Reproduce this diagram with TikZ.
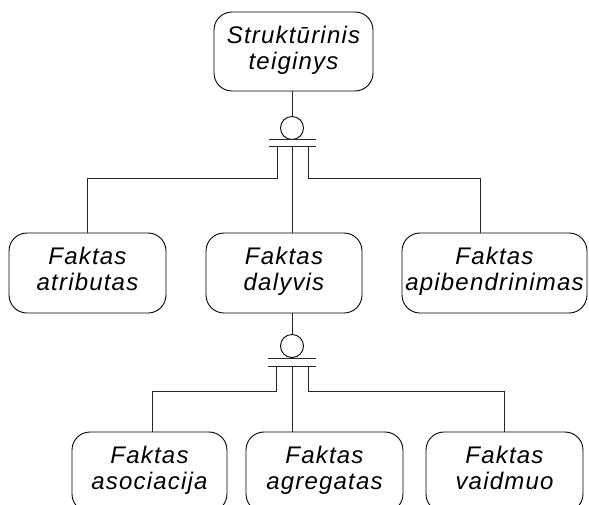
\documentclass[tikz,border=0pt]{standalone}
\usepackage{fontspec}
\setmainfont{Liberation Sans}[LetterSpace=5]
\begin{document}
\begin{tikzpicture}[x=1pt,y=-1pt,
  concept/.style={draw, rounded corners=18pt, line width=0.9pt,
    minimum height=80pt, inner sep=2pt, align=center,
    font=\fontsize{24}{26}\selectfont\itshape,
    execute at begin node=\strut, execute at end node=\strut},
  link/.style={line width=0.9pt, draw=black!85},
  joint/.style={circle, draw, line width=0.9pt, minimum size=23pt, inner sep=0pt}]
\useasboundingbox (0,0) rectangle (589,504);
\clip (0,0) rectangle (589,504);

% concepts
\node[concept, minimum width=159pt, minimum height=79pt] (top) at (293.5,51.5) {Struktūrinis\\teiginys};
\node[concept, minimum width=157pt] (atr)  at (87.5,273)  {Faktas\\atributas};
\node[concept, minimum width=156pt] (dal)  at (284,273)   {Faktas\\dalyvis};
\node[concept, minimum width=185pt] (apib) at (494.5,273) {Faktas\\apibendrinimas};
\node[concept, minimum width=155pt] (asoc) at (149.5,472) {Faktas\\asociacija};
\node[concept, minimum width=157pt] (agr)  at (324.5,472) {Faktas\\agregatas};
\node[concept, minimum width=157pt] (vaid) at (504.5,472) {Faktas\\vaidmuo};

% upper junction
\node[joint] (c1) at (292,128) {};
\coordinate (p1l) at (269,139.5);
\coordinate (p1r) at (316,139.5);
\coordinate (q1l) at (269,146.5);
\coordinate (q1r) at (316,146.5);
\coordinate (j1l) at (277,146.5);
\coordinate (j1m) at (292,146.5);
\coordinate (j1r) at (308,146.5);

\draw[link] (top.south -| c1) -- (c1.north);
\draw[link] (p1l) -- (p1r);
\draw[link] (q1l) -- (q1r);
\draw[link] (j1l) -- ++(0,32) -| (atr.north);
\draw[link] (j1m) -- (dal.north -| j1m);
\draw[link] (j1r) -- ++(0,32) -| ([xshift=-14.5pt]apib.north);

% lower junction
\node[joint] (c2) at (292,346) {};
\coordinate (p2l) at (268,358);
\coordinate (p2r) at (316,358);
\coordinate (q2l) at (268,366);
\coordinate (q2r) at (316,366);
\coordinate (j2l) at (276,366);
\coordinate (j2m) at (292,366);
\coordinate (j2r) at (308,366);

\draw[link] (dal.south -| c2) -- (c2.north);
\draw[link] (p2l) -- (p2r);
\draw[link] (q2l) -- (q2r);
\draw[link] (j2l) -- ++(0,25) -| ([xshift=2.5pt]asoc.north);
\draw[link] (j2m) -- (agr.north -| j2m);
\draw[link] (j2r) -- ++(0,25) -| (vaid.north);
\end{tikzpicture}
\end{document}
